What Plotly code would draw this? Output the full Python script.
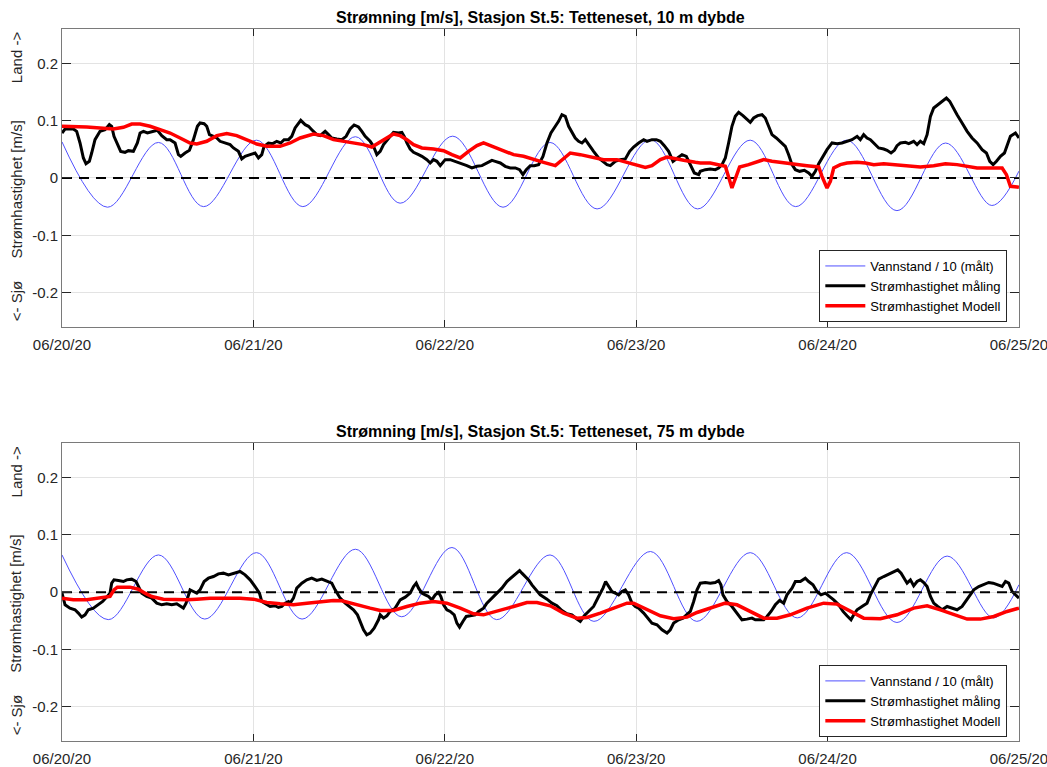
import pandas as pd
import plotly.graph_objects as go

# ---------------- data (hours after 06/20/20 00:00, values in m/s) ----------------
day_ticks = ["2020-06-20", "2020-06-21", "2020-06-22", "2020-06-23", "2020-06-24", "2020-06-25"]
day_labels = ["06/20/20", "06/21/20", "06/22/20", "06/23/20", "06/24/20", "06/25/20"]
y_ticks = [-0.2, -0.1, 0, 0.1, 0.2]
y_labels = ["-0.2", "-0.1", "0", "0.1", "0.2"]

titles = ["Strømning [m/s], Stasjon St.5: Tetteneset, 10 m dybde",
          "Strømning [m/s], Stasjon St.5: Tetteneset, 75 m dybde"]
series_names = ["Vannstand / 10 (målt)", "Strømhastighet måling", "Strømhastighet Modell"]

# --- 10 m ---
top_blue_t = [0.0, 5.7, 12.1, 17.75, 24.4, 30.2, 36.8, 42.4, 49.0, 55.3, 61.2, 67.1,
              73.8, 79.7, 86.3, 92.0, 98.4, 104.7, 110.8, 116.6, 120.0]
top_blue_v = [0.063, -0.051, 0.062, -0.050, 0.066, -0.050, 0.072, -0.044, 0.073, -0.051, 0.062, -0.054,
              0.067, -0.054, 0.066, -0.050, 0.066, -0.057, 0.061, -0.048, 0.012]

top_meas_t = [0.0, 0.38, 1.42, 1.84, 2.26, 2.68, 3.01, 3.43, 3.72, 4.14, 4.77, 5.40, 5.94, 6.23, 6.52,
              6.94, 7.36, 7.90, 8.32, 8.95, 9.45, 9.79, 10.21, 10.71, 11.46, 11.96, 12.51, 13.13, 13.55,
              14.18, 14.60, 14.89, 15.43, 15.98, 16.48, 16.98, 17.31, 17.82, 18.15, 18.49, 18.99, 19.41,
              19.82, 20.45, 21.08, 21.50, 22.12, 22.54, 22.96, 23.59, 24.21, 24.63, 25.05, 25.34, 25.89,
              26.43, 26.93, 27.43, 27.85, 28.40, 28.81, 29.23, 29.65, 29.94, 30.49, 30.91, 31.32, 31.95,
              32.37, 33.00, 33.42, 33.83, 34.46, 35.09, 35.63, 36.13, 36.63, 37.18, 37.60, 38.02, 38.64,
              39.06, 39.48,
              39.90, 40.32, 40.95, 41.57, 42.20, 42.62, 42.91, 43.25, 43.66, 44.08, 44.71, 45.13, 45.75,
              46.17, 46.59, 47.01, 47.43, 48.05, 48.68, 49.31, 49.94, 50.77, 51.40, 52.03, 52.66, 53.28,
              53.91, 54.33, 54.96, 55.58, 56.21, 56.84, 57.38, 57.80, 58.22, 58.72, 59.22, 59.76, 60.31,
              60.81, 61.31, 61.86, 62.27, 62.69, 63.11, 63.53, 63.95, 64.36, 64.78, 65.20, 65.62, 66.04,
              66.66, 67.29, 67.84, 68.34, 68.76, 69.38, 70.01, 70.64, 71.18, 71.68, 72.31, 72.94, 73.36,
              73.98, 74.53, 75.03, 75.53, 76.07, 76.62, 77.12, 77.75, 78.29, 78.79, 79.29, 79.84,
              80.04, 80.67, 81.29, 81.92, 82.34, 82.76, 83.18, 83.59, 84.01, 84.43, 84.85, 85.39, 85.89,
              86.31, 86.73, 87.23, 87.78, 88.19, 88.61, 89.03, 89.57, 90.08, 90.70, 91.12, 91.54, 91.96,
              92.50, 93.09, 93.63, 94.05, 94.47, 94.89, 95.43, 95.93, 96.56, 97.19, 97.81, 98.44, 99.07,
              99.70, 100.11, 100.53, 100.95, 101.37, 101.79, 102.41, 103.04, 103.46, 103.96, 104.38,
              104.71, 105.13, 105.76, 106.18, 106.80, 107.22, 107.64, 108.06, 108.48, 108.90, 109.31,
              109.82, 110.36, 110.90, 111.32, 111.74, 112.24, 112.87, 113.50, 114.12, 114.75, 115.38,
              115.92, 116.34, 116.76, 117.18, 117.68, 118.18, 118.51, 118.93, 119.56, 120.0]
top_meas_v = [0.0785, 0.0855, 0.0855, 0.0814, 0.0611, 0.0349, 0.0250, 0.0291, 0.0436, 0.0669, 0.0814,
              0.0843, 0.0931, 0.0902, 0.0727, 0.0582, 0.0465, 0.0448, 0.0477, 0.0465, 0.0611, 0.0785,
              0.0814, 0.0785, 0.0814, 0.0832, 0.0739, 0.0669, 0.0669, 0.0611, 0.0407, 0.0378, 0.0436,
              0.0483, 0.0669, 0.0902, 0.0960, 0.0948, 0.0902, 0.0756, 0.0727, 0.0698, 0.0640, 0.0611,
              0.0582, 0.0524, 0.0465, 0.0332, 0.0378, 0.0407, 0.0436, 0.0349, 0.0407, 0.0553, 0.0611,
              0.0599, 0.0640, 0.0611, 0.0669, 0.0669, 0.0727, 0.0873, 0.0960, 0.1006, 0.0931, 0.0902,
              0.0843, 0.0756, 0.0739, 0.0814, 0.0756, 0.0698, 0.0681, 0.0669, 0.0727, 0.0855, 0.0925,
              0.0890, 0.0814, 0.0727, 0.0640, 0.0553, 0.0407,
              0.0465, 0.0582, 0.0698, 0.0797, 0.0785, 0.0797, 0.0727, 0.0611, 0.0506, 0.0448, 0.0407,
              0.0378, 0.0320, 0.0262, 0.0320, 0.0291, 0.0215, 0.0320, 0.0320, 0.0291, 0.0262, 0.0215,
              0.0175, 0.0204, 0.0215, 0.0262, 0.0308, 0.0291, 0.0262, 0.0204, 0.0175, 0.0175, 0.0145,
              0.0058, 0.0145, 0.0215, 0.0215, 0.0233, 0.0378, 0.0611, 0.0785, 0.0902, 0.0989, 0.1105,
              0.1076, 0.0902, 0.0785, 0.0698, 0.0640, 0.0611, 0.0669, 0.0582, 0.0465, 0.0349, 0.0291,
              0.0233, 0.0215, 0.0291, 0.0320, 0.0332, 0.0465, 0.0541, 0.0611, 0.0669, 0.0640, 0.0669,
              0.0669, 0.0640, 0.0564, 0.0465, 0.0291, 0.0349, 0.0407, 0.0378, 0.0233, 0.0087, 0.0058,
              0.0116, 0.0145, 0.0157, 0.0145, 0.0175, 0.0233, 0.0349, 0.0611, 0.0902, 0.1076, 0.1146,
              0.1088, 0.1030, 0.0971, 0.1047, 0.1088, 0.1105, 0.1047, 0.0902, 0.0756, 0.0698, 0.0640,
              0.0553, 0.0407, 0.0233, 0.0145, 0.0116, 0.0134, 0.0087, 0.0029, 0.0116, 0.0250, 0.0378,
              0.0494, 0.0611, 0.0599, 0.0611, 0.0640, 0.0669, 0.0727, 0.0669, 0.0756, 0.0698, 0.0669,
              0.0611, 0.0524, 0.0506, 0.0483, 0.0436, 0.0483, 0.0564, 0.0611, 0.0622, 0.0599, 0.0640,
              0.0582, 0.0640, 0.0599, 0.0756, 0.1076, 0.1222, 0.1280, 0.1338, 0.1396, 0.1338, 0.1222,
              0.1105, 0.0960, 0.0814, 0.0698, 0.0611, 0.0494, 0.0436, 0.0291, 0.0233, 0.0291, 0.0378,
              0.0436, 0.0553, 0.0727, 0.0785, 0.0698]

top_model_t = [0.0, 1.42, 3.10, 4.77, 6.44, 7.70, 8.74, 9.79, 11.04, 12.30, 13.55, 14.81, 16.06, 16.90,
               18.15, 19.41, 20.66, 21.91, 23.17, 24.42, 25.68, 27.35, 28.61, 29.86, 31.53, 32.79, 34.04,
               35.30, 36.55, 37.81, 38.85, 39.69,
               40.53, 41.57, 42.41, 43.25, 44.08, 45.13, 46.59, 47.85, 48.89, 49.94, 50.98, 52.03,
               52.86, 53.70, 54.96, 56.63, 57.88, 59.14, 60.39, 61.86, 62.69, 63.74, 64.99, 66.66, 67.92,
               69.59, 70.85, 72.10, 73.15, 73.98, 75.03, 75.87, 76.70, 77.96, 79.42,
               80.04, 81.29, 82.55, 83.18, 84.01, 84.43, 84.97, 86.10, 86.94, 87.99, 89.03, 90.50, 91.75,
               93.42, 94.89, 95.30, 95.93, 96.35, 96.77, 97.60, 98.44, 99.70, 100.74, 101.79, 103.04,
               104.30, 105.97, 107.64, 109.31, 110.78, 112.24, 113.50, 114.75, 116.42, 117.89, 118.43,
               118.93, 119.77, 120.0]
top_model_v = [0.0902, 0.0902, 0.0890, 0.0873, 0.0855, 0.0884, 0.0942, 0.0942, 0.0902, 0.0843, 0.0785,
               0.0698, 0.0611, 0.0593, 0.0640, 0.0739, 0.0774, 0.0739, 0.0669, 0.0593, 0.0553, 0.0553,
               0.0611, 0.0698, 0.0768, 0.0739, 0.0669, 0.0640, 0.0611, 0.0582, 0.0541, 0.0611,
               0.0698, 0.0768, 0.0739, 0.0669, 0.0582, 0.0524, 0.0506, 0.0477, 0.0407, 0.0349, 0.0465,
               0.0564, 0.0611, 0.0564, 0.0494, 0.0407, 0.0378, 0.0320, 0.0273, 0.0215, 0.0320, 0.0436,
               0.0407, 0.0349, 0.0320, 0.0320, 0.0273, 0.0215, 0.0186, 0.0215, 0.0320, 0.0366, 0.0349,
               0.0308, 0.0273,
               0.0262, 0.0262, 0.0233, 0.0204, -0.0175, -0.0029, 0.0192, 0.0233, 0.0273, 0.0320, 0.0291,
               0.0262, 0.0233, 0.0215, 0.0192, 0.0029, -0.0175, -0.0058, 0.0175, 0.0233, 0.0262, 0.0273,
               0.0262, 0.0233, 0.0250, 0.0233, 0.0204, 0.0192, 0.0215, 0.0250, 0.0233, 0.0204, 0.0175,
               0.0175, 0.0175, 0.0058, -0.0145, -0.0157, -0.0163]

# --- 75 m ---
bot_blue_t = [0.0, 5.8, 12.1, 17.9, 24.4, 30.1, 36.8, 42.6, 48.9, 54.5, 61.2, 66.7, 73.8, 79.6,
              86.3, 92.2, 98.4, 104.7, 111.0, 116.8, 120.0]
bot_blue_v = [0.065, -0.048, 0.065, -0.047, 0.069, -0.047, 0.075, -0.043, 0.078, -0.048, 0.065, -0.051,
              0.071, -0.051, 0.069, -0.045, 0.069, -0.053, 0.063, -0.045, 0.013]

bot_meas_t = [0.0, 0.38, 1.00, 1.63, 2.05, 2.47, 2.89, 3.30, 3.93, 4.56, 5.10, 5.60, 6.02, 6.23, 6.52,
              7.07, 7.70, 8.11, 8.74, 9.29, 9.58, 10.00, 10.62, 11.25, 11.88, 12.51, 13.13, 13.76, 14.39,
              14.81, 15.22, 15.56, 15.85, 16.06, 16.48, 16.90, 17.31, 17.82, 18.36, 18.99, 19.61, 20.24,
              20.87, 21.50, 21.91, 22.33, 22.96, 23.59, 24.21, 24.76, 25.05, 25.47, 26.10, 26.72, 27.14,
              27.56, 27.98, 28.40, 28.61, 29.02, 29.44, 30.07, 30.70, 31.32, 31.95, 32.58, 33.21, 33.83,
              34.25, 34.88, 35.51, 36.05, 36.55, 37.05, 37.39, 37.81, 38.22, 38.64, 39.14, 39.69,
              39.90, 40.32, 40.74, 41.15, 41.78, 42.41, 43.04, 43.66, 44.08, 44.42, 44.71, 45.13, 45.55,
              45.96, 46.38, 46.80, 47.22, 47.51, 47.85, 48.26, 48.68, 49.18, 49.52, 49.85, 50.27, 50.69,
              51.19, 51.82, 52.24, 52.86, 53.28, 53.91, 54.54, 55.16, 55.79, 56.29, 56.84, 57.38, 57.67,
              58.09, 58.51, 58.93, 59.35, 59.97, 60.81, 61.44, 62.06, 62.69, 63.32, 63.95, 64.57, 64.99,
              65.49, 66.04, 66.66, 67.29, 67.84, 68.17, 68.55, 68.96, 69.38, 69.80, 70.22, 70.64, 71.06,
              71.47, 71.89, 72.31, 72.94, 73.57, 73.98, 74.61, 75.24, 75.87, 76.28, 76.70, 77.33, 77.87,
              78.37, 78.79, 79.21, 79.63,
              80.04, 80.67, 81.29, 81.92, 82.34, 82.63, 82.88, 83.39, 84.01, 84.64, 85.27, 85.89, 86.52,
              86.94, 87.57, 87.99, 88.40, 88.91, 89.45, 89.99, 90.50, 90.91, 91.54, 91.96, 92.59, 93.21,
              93.63, 94.17, 94.68, 95.18, 95.72, 96.27, 96.77, 97.40, 97.94, 98.44, 98.94, 99.28, 99.70,
              100.32, 100.95, 101.37, 101.87, 102.41, 103.04, 103.67, 104.30, 104.80, 105.22, 105.63,
              105.97, 106.39, 106.80, 107.22, 107.64, 108.06, 108.48, 108.90, 109.31, 109.82, 110.36,
              110.99, 111.61, 112.24, 112.87, 113.50, 113.91, 114.33, 114.96, 115.59, 116.21, 116.76,
              117.26, 117.89, 118.31, 118.72, 119.14, 119.77, 120.0]
bot_meas_v = [-0.0017, -0.0221, -0.0279, -0.0308, -0.0366, -0.0436, -0.0396, -0.0308, -0.0279, -0.0221,
              -0.0163, -0.0087, -0.0017, 0.0157, 0.0215, 0.0204, 0.0186, 0.0215, 0.0227, 0.0186, 0.0099,
              -0.0017, -0.0076, -0.0105, -0.0192, -0.0221, -0.0204, -0.0221, -0.0204, -0.0250, -0.0279,
              -0.0192, -0.0047, 0.0041, 0.0012, -0.0017, 0.0041, 0.0186, 0.0244, 0.0273, 0.0320, 0.0332,
              0.0302, 0.0332, 0.0343, 0.0361, 0.0302, 0.0215, 0.0099, -0.0017, -0.0163, -0.0192, -0.0250,
              -0.0238, -0.0268, -0.0250, -0.0192, -0.0163, -0.0192, -0.0105, 0.0070, 0.0157, 0.0215,
              0.0244, 0.0204, 0.0227, 0.0186, 0.0157, 0.0041, -0.0105, -0.0192, -0.0250, -0.0308,
              -0.0396, -0.0512, -0.0657, -0.0745, -0.0715, -0.0628, -0.0483,
              -0.0396, -0.0454, -0.0413, -0.0337, -0.0279, -0.0134, -0.0087, -0.0017, 0.0099, 0.0157,
              0.0070, -0.0017, -0.0047, -0.0076, -0.0134, -0.0047, -0.0006, -0.0076, -0.0221, -0.0308,
              -0.0337, -0.0396, -0.0541, -0.0611, -0.0512, -0.0425, -0.0413, -0.0396, -0.0337, -0.0279,
              -0.0192, -0.0105, -0.0017, 0.0070, 0.0186, 0.0244, 0.0302, 0.0378, 0.0332, 0.0273, 0.0215,
              0.0128, 0.0052, -0.0047, -0.0122, -0.0192, -0.0238, -0.0320, -0.0378, -0.0396, -0.0471,
              -0.0512, -0.0413, -0.0337, -0.0250, -0.0076, 0.0070, 0.0186, 0.0099, 0.0012, -0.0017,
              -0.0047, 0.0012, 0.0041, -0.0047, -0.0192, -0.0250, -0.0279, -0.0366, -0.0483, -0.0541,
              -0.0570, -0.0657, -0.0715, -0.0657, -0.0541, -0.0483, -0.0454, -0.0396, -0.0337, -0.0163,
              0.0041,
              0.0157, 0.0169, 0.0157, 0.0169, 0.0204, 0.0128, -0.0047, -0.0163, -0.0250, -0.0366, -0.0483,
              -0.0471, -0.0454, -0.0483, -0.0483, -0.0483, -0.0425, -0.0337, -0.0221, -0.0145, -0.0192,
              -0.0047, 0.0070, 0.0186, 0.0186, 0.0244, 0.0186, 0.0128, 0.0012, -0.0047, -0.0017, -0.0076,
              -0.0134, -0.0221, -0.0337, -0.0413, -0.0483, -0.0396, -0.0308, -0.0250, -0.0192, -0.0047,
              0.0099, 0.0227, 0.0273, 0.0314, 0.0361, 0.0390, 0.0332, 0.0244, 0.0157, 0.0215, 0.0111,
              0.0186, 0.0215, 0.0169, 0.0099, -0.0076, -0.0192, -0.0250, -0.0308, -0.0250, -0.0279,
              -0.0308, -0.0250, -0.0134, -0.0047, 0.0041, 0.0099, 0.0128, 0.0169, 0.0157, 0.0128, 0.0099,
              0.0186, 0.0157, 0.0012, -0.0076, -0.0105]

bot_model_t = [0.0, 1.42, 3.10, 4.77, 6.02, 6.52, 6.94, 8.53, 9.58, 10.41, 11.25, 12.71, 14.39, 15.64,
               16.90, 18.57, 20.66, 22.33, 24.01, 25.68, 27.35, 29.02, 30.70, 32.37, 34.04, 35.09, 36.13,
               37.39, 38.64,
               39.90, 41.57, 43.25, 44.92, 46.59, 48.26, 49.94, 51.61, 52.86, 54.54, 56.63, 58.30, 59.56,
               61.23, 62.90, 64.57, 65.83, 67.50, 69.17, 70.85, 71.68, 73.36, 75.03, 76.70, 78.37, 79.63,
               80.04, 81.29, 83.18, 84.64, 86.31, 87.99, 89.66, 91.33, 93.42, 95.51, 97.19, 98.86, 100.53,
               102.62, 104.71, 106.80, 108.48, 110.15, 111.82, 113.50, 115.17, 116.84, 118.51, 119.77, 120.0]
bot_model_v = [-0.0105, -0.0134, -0.0134, -0.0105, -0.0076, 0.0041, 0.0087, 0.0087, 0.0052, -0.0017,
               -0.0076, -0.0122, -0.0134, -0.0134, -0.0122, -0.0105, -0.0105, -0.0105, -0.0122, -0.0180,
               -0.0204, -0.0221, -0.0192, -0.0163, -0.0145, -0.0151, -0.0192, -0.0238, -0.0279,
               -0.0320, -0.0320, -0.0250, -0.0192, -0.0163, -0.0192, -0.0279, -0.0378, -0.0396, -0.0337,
               -0.0250, -0.0180, -0.0180, -0.0238, -0.0366, -0.0454, -0.0442, -0.0366, -0.0279, -0.0192,
               -0.0192, -0.0308, -0.0413, -0.0465, -0.0436, -0.0355,
               -0.0337, -0.0279, -0.0192, -0.0221, -0.0337, -0.0454, -0.0454, -0.0396, -0.0279, -0.0192,
               -0.0209, -0.0337, -0.0454, -0.0465, -0.0396, -0.0279, -0.0238, -0.0308, -0.0396, -0.0471,
               -0.0471, -0.0425, -0.0337, -0.0279, -0.0279]

# ---------------- figure ----------------
t0 = pd.Timestamp("2020-06-20")
t_end = t0 + pd.Timedelta(days=5)


def to_time(hours):
    return [t0 + pd.Timedelta(hours=h) for h in hours]


FONT = "Liberation Sans, Arial, sans-serif"
AX_COL = "#262626"
fig = go.Figure()

panels = [
    ("x", "y", "legend", top_blue_t, top_blue_v, top_meas_t, top_meas_v, top_model_t, top_model_v),
    ("x2", "y2", "legend2", bot_blue_t, bot_blue_v, bot_meas_t, bot_meas_v, bot_model_t, bot_model_v),
]
for xa, ya, lg, bt, bv, mt, mv, dt, dv in panels:
    fig.add_trace(go.Scatter(x=to_time(bt), y=bv, mode="lines", name=series_names[0],
                             line=dict(color="rgb(80,80,255)", width=1, shape="spline"),
                             xaxis=xa, yaxis=ya, legend=lg))
    fig.add_trace(go.Scatter(x=[t0, t_end], y=[0, 0], mode="lines",
                             line=dict(color="black", width=2, dash="10px,7px"),
                             showlegend=False, xaxis=xa, yaxis=ya, hoverinfo="skip"))
    fig.add_trace(go.Scatter(x=to_time(mt), y=mv, mode="lines", name=series_names[1],
                             line=dict(color="black", width=3),
                             xaxis=xa, yaxis=ya, legend=lg))
    fig.add_trace(go.Scatter(x=to_time(dt), y=dv, mode="lines", name=series_names[2],
                             line=dict(color="#ff0000", width=3.5),
                             xaxis=xa, yaxis=ya, legend=lg))

x_range = [t0, t_end + pd.Timedelta(seconds=20)]
xcommon = dict(type="date", range=x_range, tickvals=day_ticks, ticktext=day_labels,
               showgrid=True, gridcolor="#e3e3e3", gridwidth=1, showline=True, linecolor="#7a7a7a",
               linewidth=1, mirror="ticks", ticks="inside", ticklen=7, tickcolor=AX_COL,
               ticklabelstandoff=4, ticklabeloverflow="allow", automargin=False,
               tickfont=dict(family=FONT, size=15, color=AX_COL), zeroline=False)
ycommon = dict(range=[-0.26, 0.26], tickvals=y_ticks, ticktext=y_labels, showgrid=True,
               gridcolor="#e3e3e3", gridwidth=1, showline=True, linecolor="#7a7a7a", linewidth=1,
               mirror="ticks", ticks="inside", ticklen=9, tickcolor=AX_COL, automargin=False,
               tickfont=dict(family=FONT, size=15, color=AX_COL), zeroline=False)

legend_common = dict(bgcolor="white", bordercolor=AX_COL, borderwidth=1,
                     font=dict(family=FONT, size=13, color="black"), itemwidth=40,
                     xanchor="right", yanchor="bottom", x=0.9878, tracegroupgap=0)

top_dom = [0.5815, 1.0]
bot_dom = [0.0, 0.4181]

fig.update_layout(
    width=1047, height=767, autosize=False,
    margin=dict(l=62, r=28, t=29, b=26),
    paper_bgcolor="white", plot_bgcolor="white",
    font=dict(family=FONT, color=AX_COL),
    xaxis=dict(domain=[0, 1], anchor="y", **xcommon),
    yaxis=dict(domain=top_dom, anchor="x", **ycommon),
    xaxis2=dict(domain=[0, 1], anchor="y2", **xcommon),
    yaxis2=dict(domain=bot_dom, anchor="x2", **ycommon),
    legend=dict(y=0.5885, **legend_common),
    legend2=dict(y=0.0057, **legend_common),
)

annotations = []
for title, ya, ytop in [(titles[0], "y", 1.0), (titles[1], "y2", 0.4181)]:
    annotations.append(dict(text="<b>" + title + "</b>", xref="paper", yref="paper", x=0.5,
                            y=ytop + 0.0162, xanchor="center", yanchor="middle", showarrow=False,
                            font=dict(family=FONT, size=16, color="black")))
    for txt, yv in [("Land ->", 0.211), ("Strømhastighet [m/s]", -0.020), ("<- Sjø", -0.215)]:
        annotations.append(dict(text=txt, xref="paper", yref=ya, x=-0.048, y=yv, textangle=-90,
                                xanchor="center", yanchor="middle", showarrow=False,
                                font=dict(family=FONT, size=15, color=AX_COL)))
fig.update_layout(annotations=annotations)

fig.write_html("out.html")
